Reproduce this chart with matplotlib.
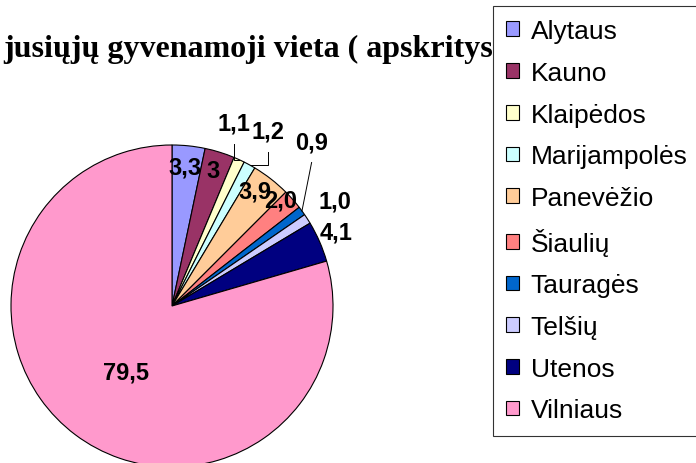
import matplotlib.pyplot as plt
import numpy as np

regions = ["Alytaus", "Kauno", "Klaipėdos", "Marijampolės", "Panevėžio",
           "Šiaulių", "Tauragės", "Telšių", "Utenos", "Vilniaus"]
shares = [3.3, 3, 1.1, 1.2, 3.9, 2.0, 0.9, 1.0, 4.1, 79.5]
value_labels = ["3,3", "3", "1,1", "1,2", "3,9", "2,0", "0,9", "1,0", "4,1", "79,5"]
colors = ["#9999FF", "#993366", "#FFFFCC", "#CCFFFF", "#FFCC99",
          "#FF8080", "#0066CC", "#CCCCFF", "#000080", "#FF99CC"]
title = "jusiųjų gyvenamoji vieta ( apskritys"

# label placement: radius factor and angle shift (deg) from the wedge middle
label_r = [0.87, 0.88, 1.2, 1.24, 0.88, 0.94, 1.34, 1.2, 1.12, 0.5]
label_shift = [0.6, 0.4, 6, 0, 2, 2.8, 13.5, 0, 0.8, 2]
leaders = {2: "elbow", 3: "elbow", 6: "straight"}

plt.rcParams['font.family'] = ['Liberation Sans', 'DejaVu Sans']

W, H = 696, 464
fig = plt.figure(figsize=(W / 100, H / 100), dpi=100)
ax = fig.add_axes([0, 0, 1, 1])

cx, cy, R = 172, H - 307, 161
wedges, _ = ax.pie(shares, colors=colors, startangle=90, counterclock=False,
                   center=(cx, cy), radius=R,
                   wedgeprops=dict(edgecolor="black", linewidth=0.8))
ax.set_xlim(0, W)
ax.set_ylim(0, H)
ax.set_aspect("equal")
ax.axis("off")

for i, w in enumerate(wedges):
    mid = np.deg2rad((w.theta1 + w.theta2) / 2)
    a = mid + np.deg2rad(label_shift[i])
    lx = cx + label_r[i] * R * np.cos(a)
    ly = cy + label_r[i] * R * np.sin(a)
    ax.text(lx, ly, value_labels[i], ha="center", va="center",
            fontsize=17, fontweight="bold", color="black")
    if i in leaders:
        ex = cx + R * np.cos(mid)
        ey = cy + R * np.sin(mid)
        if leaders[i] == "elbow":
            xs = [lx, lx, ex]
            ys = [ly - 21, ey, ey]
        else:
            xs = [lx, ex]
            ys = [ly - 21, ey]
        ax.plot(xs, ys, color="black", linewidth=0.7)

ax.text(3, H - 57, title, ha="left", va="baseline", fontsize=23,
        fontweight="bold", family=["Liberation Serif", "DejaVu Serif"])

leg = ax.legend(wedges, regions, loc="upper left",
                bbox_to_anchor=(493 / W, 457 / H), bbox_transform=fig.transFigure,
                fontsize=19, frameon=True, fancybox=False, edgecolor="black",
                borderaxespad=0, handlelength=0.48, handleheight=0.48,
                handletextpad=0.45, borderpad=0.5, labelspacing=0.67)
leg.get_frame().set_linewidth(0.8)

fig.savefig("out.png", dpi=100)
